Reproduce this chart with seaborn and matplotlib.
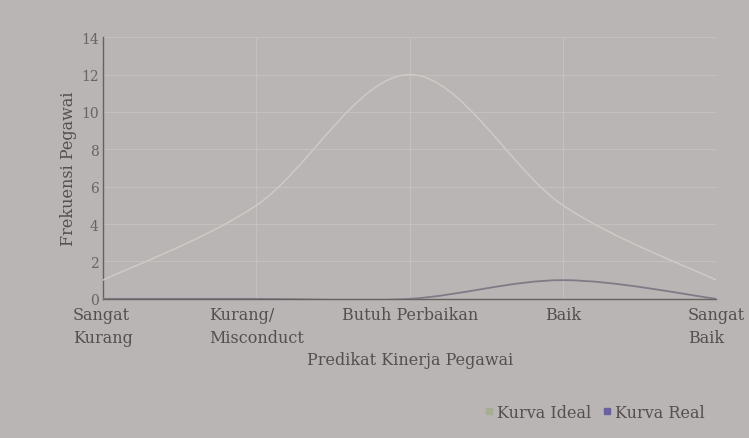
import numpy as np
import matplotlib
matplotlib.use("Agg")
import matplotlib.pyplot as plt
from matplotlib.path import Path
from matplotlib.patches import PathPatch
from matplotlib.lines import Line2D
import seaborn as sns

# data
categories = ["Sangat\nKurang", "Kurang/\nMisconduct", "Butuh Perbaikan", "Baik", "Sangat\nBaik"]
kurva_ideal = [1, 5, 12, 5, 1]
kurva_real = [0, 0, 0, 1, 0]
y_ticks = [0, 2, 4, 6, 8, 10, 12, 14]

BG = "#b8b5b4"
TXT = "#55504f"
IDEAL_COL = "#cdcbc4"
REAL_COL = "#7f7a86"
FS = 11.5


def smooth_path(xs, ys):
    # bezier (catmull-rom style) path through the data points, like a "smoothed line"
    pts = np.column_stack([xs, ys]).astype(float)
    n = len(pts)
    verts = [pts[0]]
    codes = [Path.MOVETO]
    for i in range(n - 1):
        p0 = pts[i - 1] if i > 0 else pts[i]
        p1 = pts[i]
        p2 = pts[i + 1]
        p3 = pts[i + 2] if i + 2 < n else pts[i + 1]
        c1 = p1 + (p2 - p0) / 6.0
        c2 = p2 - (p3 - p1) / 6.0
        verts += [c1, c2, p2]
        codes += [Path.CURVE4] * 3
    return Path(verts, codes)


sns.set_theme(style="whitegrid")
plt.rcParams["font.family"] = ["DejaVu Serif", "DejaVu Sans"]

fig = plt.figure(figsize=(7.49, 4.39), dpi=100, facecolor=BG)
ax = fig.add_axes([0.1375, 0.317, 0.819, 0.596])
ax.set_facecolor(BG)

x = np.arange(len(categories))
for vals, col, lw in [(kurva_ideal, IDEAL_COL, 1.1), (kurva_real, REAL_COL, 1.3)]:
    ax.add_patch(PathPatch(smooth_path(x, vals), fill=False, edgecolor=col, lw=lw, zorder=3))

ax.set_xlim(0, len(categories) - 1)
ax.set_ylim(0, 14)
ax.set_xticks(x)
ax.set_xticklabels(categories, multialignment="left", fontsize=FS, color=TXT, linespacing=1.45)
ax.set_yticks(y_ticks)
ax.set_yticklabels([str(v) for v in y_ticks], fontsize=FS - 1.5, color="#6a6463")
ax.tick_params(axis="both", direction="inout", length=4, width=0.8, color="#6a6565")
ax.tick_params(axis="x", pad=3)
ax.tick_params(axis="y", pad=1)

ax.grid(True, color="#c3c1c0", lw=0.8)
for side in ["top", "right"]:
    ax.spines[side].set_visible(False)
for side in ["left", "bottom"]:
    ax.spines[side].set_color("#67625f")
    ax.spines[side].set_linewidth(1.0)

ax.set_xlabel("Predikat Kinerja Pegawai", fontsize=FS, color=TXT, labelpad=4)
ax.set_ylabel("Frekuensi Pegawai", fontsize=FS, color=TXT, labelpad=3)

handles = [
    Line2D([], [], ls="none", marker="s", ms=4, color="#a7ad90", label="Kurva Ideal"),
    Line2D([], [], ls="none", marker="s", ms=4, color="#6b60a0", label="Kurva Real"),
]
leg = fig.legend(handles=handles, loc="center right", bbox_to_anchor=(0.96, 0.058), ncol=2,
                 frameon=False, fontsize=FS, handletextpad=0.1, columnspacing=0.6, handlelength=0.8)
for t in leg.get_texts():
    t.set_color(TXT)

fig.savefig("out.png", dpi=100, facecolor=BG)
